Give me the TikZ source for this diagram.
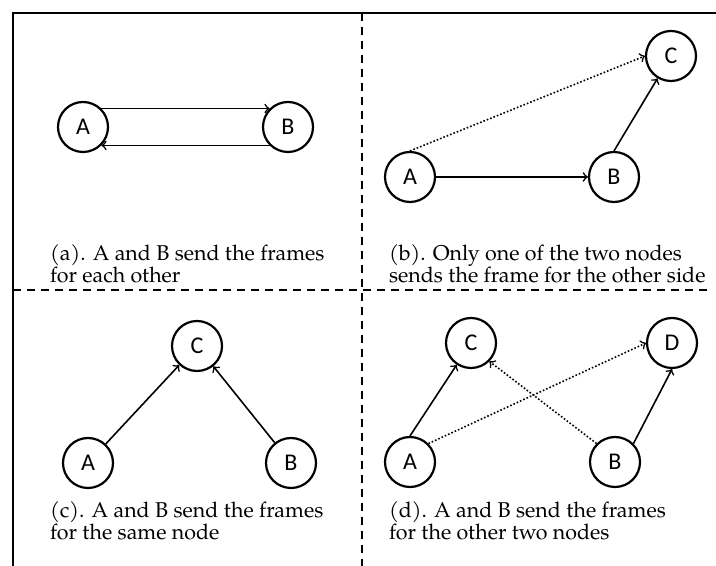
\documentclass[tikz,border=0pt]{standalone}
\usepackage{fontspec}
\setmainfont{TeX Gyre Pagella}
\newfontfamily\nodefont{Carlito}
\usetikzlibrary{arrows,positioning}
\newcommand\capfont{\fontsize{10.7}{11}\selectfont}

\begin{document}
\begin{tikzpicture}[x=.5pt,y=.5pt]%
        \useasboundingbox (0,0) rectangle (716,566);%%
        \draw[line width=1pt] (716,553) -- (13,553) -- (13,0);%%
        \draw[line width=.8pt,dash pattern=on 4pt off 3pt] (362,553) -- (362,0);%%
        \draw[line width=.8pt,dash pattern=on 4pt off 3pt] (13,276) -- (712,276);%%
        \begin{scope}[shape=circle,inner sep=0pt,minimum size=25pt,line width=1.1pt]
        \tikzstyle{every node}=[draw,font=\nodefont\fontsize{12}{14}\selectfont] %%
        \node (aA) at (83,439)  {A}; %%
        \node (aB) at (288,439)  {B}; %%
        \node (bA) at (410,389)  {A}; %%
        \node (bB) at (614,389)  {B}; %%
        \node (bC) at (671,510)  {C}; %%
        \node (cA) at (88,103)  {A}; %%
        \node (cB) at (291,103)  {B}; %%
        \node (cC) at (197,220)  {C}; %%
        \node (dA) at (410,104)  {A}; %%
        \node (dB) at (615,104)  {B}; %%
        \node (dC) at (471,223)  {C}; %%
        \node (dD) at (672,223)  {D}; %%
        \end{scope}
        \begin{scope}[align=left,anchor=base west]
        \tikzstyle{every node}=[font=\capfont] %%
        \node (capa) at (43,283)  {(a). A and B send the frames\\for each other}; %%
        \node (capb) at (382,283)  {(b). Only one of the two nodes\\sends the frame for the other side}; %%
        \node (capc) at (43,26)  {(c). A and B send the frames\\for the same node}; %%
        \node (capd) at (382,26)  {(d). A and B send the frames\\for the other two nodes}; %%
        \end{scope}
        \begin{scope}[line width=.8pt]
        \draw[->] (aA.north east)--(aB.north west);  %%
        \draw[->] (aB.south west)--(aA.south east);  %%
        \draw[->] (bA)--(bB); %%
        \draw[->] (bB.north)--(bC); %%
        \draw[->,densely dotted] (bA.north)--(bC.west); %%
        \draw[->] (cA)--(cC); %%
        \draw[->] (cB)--(cC); %%
        \draw[->] (dA.north)--(dC); %%
        \draw[->] (dB.north east)--(dD.south); %%
        \draw[->,densely dotted] (dA.north east)--(dD.west); %%
        \draw[->,densely dotted] (dB.north west)--(dC.south east); %%
        \end{scope}
\end{tikzpicture}
\end{document}
